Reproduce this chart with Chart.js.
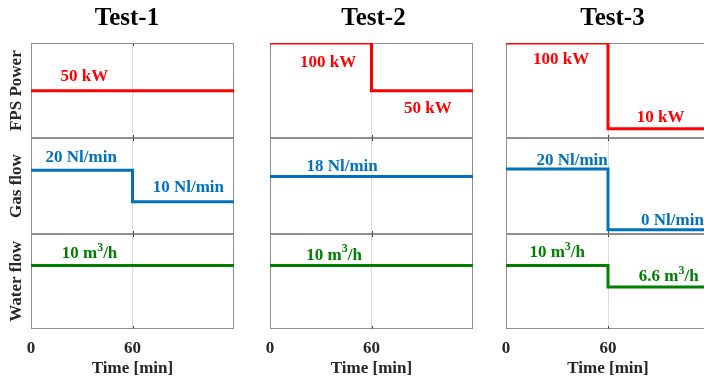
<!DOCTYPE html>
<html><head><meta charset="utf-8">
<script src="https://cdn.jsdelivr.net/npm/chart.js@4.4.1/dist/chart.umd.min.js"></script>
<style>
html,body{margin:0;padding:0;width:704px;height:381px;overflow:hidden;background:#fff;}
canvas{position:absolute;top:0;}
</style></head><body>
<canvas id="c1"></canvas><canvas id="c2"></canvas><canvas id="c3"></canvas>
<script>
// ---- data ----
const testTitles = ['Test-1', 'Test-2', 'Test-3'];
const panelTitles = ['FPS Power', 'Gas flow', 'Water flow'];
const xTitle = 'Time [min]';
const xTickValues = [0, 60];
const timeMin = [0, 60, 120];

const test1Power = [50, 50, 50];
const test1Gas   = [20, 10, 10];
const test1Water = [10, 10, 10];

const test2Power = [100, 50, 50];
const test2Gas   = [18, 18, 18];
const test2Water = [10, 10, 10];

const test3Power = [100, 10, 10];
const test3Gas   = [20, 0, 0];
const test3Water = [10, 6.6, 6.6];

// value labels: text, time anchor, value anchor, panel
const test1LabelText = ['50 kW', '20 Nl/min', '10 Nl/min', '10 m³/h'];
const test1LabelTime = [31.6, 29.7, 93, 34.6];
const test1LabelValue = [64.3, 24.1, 14.4, 11.8];
const test1LabelPanel = ['power', 'gas', 'gas', 'water'];

const test2LabelText = ['100 kW', '50 kW', '18 Nl/min', '10 m³/h'];
const test2LabelTime = [34.3, 93.3, 42.6, 37.9];
const test2LabelValue = [79.5, 31.5, 21.1, 11.6];
const test2LabelPanel = ['power', 'power', 'gas', 'water'];

const test3LabelText = ['100 kW', '10 kW', '20 Nl/min', '0 Nl/min', '10 m³/h', '6.6 m³/h'];
const test3LabelTime = [32.4, 91, 38.9, 97.9, 30.1, 95.7];
const test3LabelValue = [83, 22.2, 22.7, 3.0, 12.0, 8.2];
const test3LabelPanel = ['power', 'power', 'gas', 'gas', 'water', 'water'];

// axis ranges per test
const powerRange = [[0, 100], [0, 100], [0, 100]];
const gasRange = [[-0.2, 30.2], [-0.5, 30.3], [-1.3, 30.1]];
const waterRange = [[0, 15], [0, 15], [0, 15]];

// ---- styles / layout ----
const FONT = "'Liberation Serif', 'Times New Roman', serif";
const COLORS = { power: '#ff0000', gas: '#0072bd', water: '#008000' };
const layout = [
  { id: 'c1', left: 0,   width: 254, leftW: 31, rightW: 20 },
  { id: 'c2', left: 250, width: 247, leftW: 20, rightW: 24 },
  { id: 'c3', left: 486, width: 253, leftW: 20, rightW: 29 }
];

const panelPlugin = {
  id: 'panels',
  beforeDatasetsDraw(chart) {
    const ctx = chart.ctx, xs = chart.scales.x;
    const l = Math.round(xs.left) + 0.5, r = Math.round(xs.right) - 0.5;
    const g = Math.round(xs.getPixelForValue(60)) + 0.5;
    ctx.save();
    ['power', 'gas', 'water'].forEach(k => {
      const s = chart.scales[k];
      const t = Math.round(s.top) + 0.5, b = Math.round(s.bottom) - 0.5;
      ctx.strokeStyle = '#8f8f8f';
      ctx.lineWidth = 1;
      ctx.strokeRect(l, t, r - l, b - t);
      ctx.strokeStyle = '#444';
      ctx.beginPath();
      ctx.moveTo(g, t); ctx.lineTo(g, t + 2.5);
      ctx.moveTo(g, b); ctx.lineTo(g, b - 2.5);
      ctx.stroke();
    });
    ctx.restore();
  }
};

const labelPlugin = {
  id: 'valueLabels',
  afterDatasetsDraw(chart, args, opts) {
    const ctx = chart.ctx, xs = chart.scales.x;
    ctx.save();
    ctx.textBaseline = 'middle';
    ctx.textAlign = 'left';
    const main = 'bold 17px ' + FONT, sup = 'bold 12px ' + FONT;
    opts.text.forEach((txt, i) => {
      const panel = opts.panel[i];
      const x = xs.getPixelForValue(opts.time[i]);
      const y = chart.scales[panel].getPixelForValue(opts.value[i]);
      ctx.fillStyle = COLORS[panel];
      const parts = txt.split('³');
      if (parts.length === 2) {
        ctx.font = main; const w1 = ctx.measureText(parts[0]).width, w3 = ctx.measureText(parts[1]).width;
        ctx.font = sup; const w2 = ctx.measureText('3').width;
        let sx = x - (w1 + w2 + w3) / 2;
        ctx.font = main; ctx.fillText(parts[0], sx, y); sx += w1;
        ctx.font = sup; ctx.fillText('3', sx, y - 6); sx += w2;
        ctx.font = main; ctx.fillText(parts[1], sx, y);
      } else {
        ctx.font = main;
        const w = ctx.measureText(txt).width;
        ctx.fillText(txt, x - w / 2, y);
      }
    });
    ctx.restore();
  }
};

function makeChart(idx, power, gas, water, lText, lTime, lValue, lPanel) {
  const g = layout[idx];
  const cv = document.getElementById(g.id);
  cv.width = g.width; cv.height = 381;
  cv.style.left = g.left + 'px';
  const titleFont = { family: FONT, size: 17, weight: 'bold' };
  const yAxis = (key, rng, w, title) => ({
    type: 'linear', position: 'left', stack: 'col', stackWeight: 1, weight: w,
    min: rng[0], max: rng[1], display: true,
    grid: { display: false }, border: { display: false }, ticks: { display: false },
    title: { display: idx === 0, text: title, font: titleFont, color: '#262626', padding: { top: 6, bottom: 0 } },
    afterFit: s => { s.width = g.leftW; }
  });
  const ds = (data, key) => ({
    data: timeMin.map((t, i) => ({ x: t, y: data[i] })),
    yAxisID: key, borderColor: COLORS[key], borderWidth: 3, pointRadius: 0,
    stepped: 'before', fill: false, borderJoinStyle: 'miter', borderCapStyle: 'butt'
  });
  return new Chart(cv, {
    type: 'line',
    data: { datasets: [ds(power, 'power'), ds(gas, 'gas'), ds(water, 'water')] },
    options: {
      responsive: false, animation: false, devicePixelRatio: 1,
      layout: { padding: 0 },
      plugins: {
        legend: { display: false }, tooltip: { enabled: false },
        title: { display: true, text: testTitles[idx], color: '#000',
          font: { family: FONT, size: 25, weight: 'bold' }, padding: { top: 4, bottom: 9 } },
        valueLabels: { text: lText, time: lTime, value: lValue, panel: lPanel }
      },
      scales: {
        x: {
          type: 'linear', position: 'bottom', min: 0, max: 120,
          afterBuildTicks: s => { s.ticks = xTickValues.map(v => ({ value: v })); },
          ticks: { font: titleFont, color: '#262626', padding: 9, maxRotation: 0, autoSkip: false },
          grid: { drawTicks: false, color: c => (c.tick && c.tick.value === 60) ? '#dcdcdc' : 'rgba(0,0,0,0)' },
          border: { display: false },
          title: { display: true, text: xTitle, font: titleFont, color: '#262626', padding: { top: 0, bottom: 2 } },
          afterFit: s => { s.height = 52; }
        },
        power: yAxis('power', powerRange[idx], 3, panelTitles[0]),
        gas: yAxis('gas', gasRange[idx], 2, panelTitles[1]),
        water: yAxis('water', waterRange[idx], 1, panelTitles[2]),
        pad: { type: 'linear', position: 'right', display: true, min: 0, max: 1,
          grid: { display: false }, border: { display: false }, ticks: { display: false },
          afterFit: s => { s.width = g.rightW; } }
      }
    },
    plugins: [panelPlugin, labelPlugin]
  });
}

makeChart(0, test1Power, test1Gas, test1Water, test1LabelText, test1LabelTime, test1LabelValue, test1LabelPanel);
makeChart(1, test2Power, test2Gas, test2Water, test2LabelText, test2LabelTime, test2LabelValue, test2LabelPanel);
makeChart(2, test3Power, test3Gas, test3Water, test3LabelText, test3LabelTime, test3LabelValue, test3LabelPanel);
</script>
</body></html>
